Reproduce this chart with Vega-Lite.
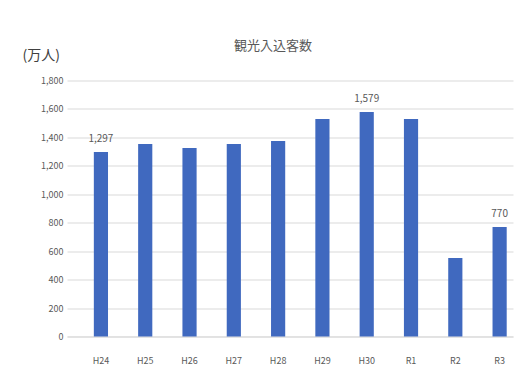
{
  "$schema": "https://vega.github.io/schema/vega-lite/v6.json",
  "autosize": {"type": "none"},
  "width": 446,
  "height": 256,
  "padding": {"left": 67, "top": 80.5, "right": 18, "bottom": 36.5},
  "background": "white",
  "title": {
    "text": "観光入込客数",
    "anchor": "middle",
    "frame": "group",
    "dx": -17,
    "offset": -4,
    "fontSize": 13,
    "fontWeight": "normal",
    "color": "#595959",
    "font": "Noto Sans CJK JP"
  },
  "data": {
    "values": [
      {"year": "H24", "visitors": 1297, "show": true},
      {"year": "H25", "visitors": 1354, "show": false},
      {"year": "H26", "visitors": 1326, "show": false},
      {"year": "H27", "visitors": 1354, "show": false},
      {"year": "H28", "visitors": 1375, "show": false},
      {"year": "H29", "visitors": 1530, "show": false},
      {"year": "H30", "visitors": 1579, "show": true},
      {"year": "R1", "visitors": 1530, "show": false},
      {"year": "R2", "visitors": 552, "show": false},
      {"year": "R3", "visitors": 770, "show": true}
    ]
  },
  "encoding": {
    "x": {
      "field": "year",
      "type": "nominal",
      "sort": null,
      "scale": {"paddingInner": 0.68, "paddingOuter": 0.374, "align": 0.81},
      "axis": {
        "title": null,
        "labelAngle": 0,
        "labelPadding": 20,
        "labelFontSize": 9,
        "labelColor": "#595959",
        "labelFont": "Noto Sans CJK JP",
        "ticks": false,
        "domain": true,
        "domainColor": "#d9d9d9",
        "grid": false
      }
    },
    "y": {
      "field": "visitors",
      "type": "quantitative",
      "scale": {"domain": [0, 1800], "nice": false},
      "axis": {
        "values": [0, 200, 400, 600, 800, 1000, 1200, 1400, 1600, 1800],
        "format": ",.0f",
        "title": "(万人)",
        "titleAngle": 0,
        "titleAlign": "left",
        "titleBaseline": "middle",
        "titleX": -45,
        "titleY": -25,
        "titleFontSize": 14,
        "titleFontWeight": "normal",
        "titleColor": "#404040",
        "titleFont": "Noto Sans CJK JP",
        "labelFontSize": 9,
        "labelColor": "#595959",
        "labelFont": "Noto Sans CJK JP",
        "labelPadding": 4,
        "ticks": false,
        "domain": false,
        "grid": true,
        "gridColor": "#d9d9d9",
        "gridWidth": 1
      }
    }
  },
  "layer": [
    {
      "mark": {"type": "bar", "color": "#4069BF"}
    },
    {
      "transform": [{"filter": "datum.show"}],
      "mark": {
        "type": "text",
        "baseline": "bottom",
        "dy": -8,
        "fontSize": 10,
        "color": "#595959",
        "font": "Noto Sans CJK JP"
      },
      "encoding": {
        "text": {"field": "visitors", "type": "quantitative", "format": ",.0f"}
      }
    }
  ],
  "config": {"view": {"stroke": null}}
}
